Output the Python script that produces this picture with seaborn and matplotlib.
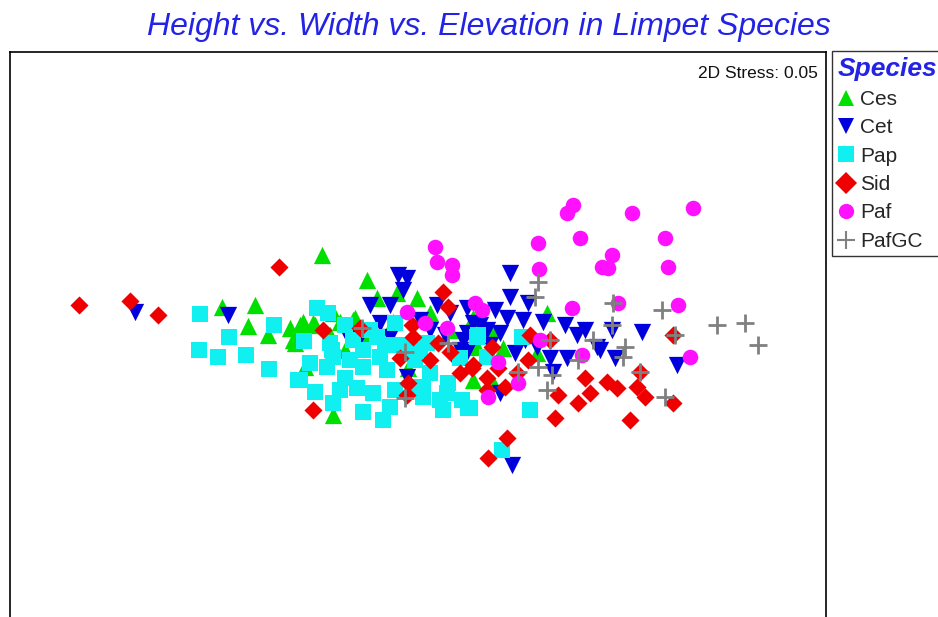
import matplotlib
matplotlib.use("Agg")
import matplotlib.pyplot as plt
from matplotlib.lines import Line2D
import seaborn as sns
import pandas as pd

sns.set_style("white")
plt.rcParams['font.family'] = ['Liberation Sans', 'DejaVu Sans']

species = ["Ces", "Cet", "Pap", "Sid", "Paf", "PafGC"]
colors = ["#00e000", "#0000dd", "#10f0f0", "#ee0000", "#ff10ff", "#808080"]
markers = ["^", "v", "s", "D", "o", "+"]

# MDS ordination coordinates (screen-like units, y grows downward)
ces_x = [222, 255, 248, 268, 290, 295, 303, 315, 333, 322, 333, 305, 367, 417, 377, 397, 430, 300, 313, 340,
         353, 293, 408, 345, 473, 477, 473, 547, 537, 503, 493, 393, 355, 330, 365, 450, 490]
ces_y = [307, 305, 326, 335, 328, 343, 322, 325, 313, 255, 415, 367, 280, 298, 298, 293, 313, 325, 323, 322,
         320, 340, 368, 350, 380, 347, 318, 313, 353, 348, 383, 322, 318, 335, 335, 330, 330]

cet_x = [135, 228, 398, 407, 403, 370, 390, 437, 450, 467, 380, 347, 360, 390, 463, 467, 480, 473, 407, 510,
         510, 528, 495, 480, 507, 523, 543, 565, 577, 597, 612, 642, 615, 567, 550, 515, 537, 553, 500, 677,
         512, 460, 467, 500, 487, 453, 420, 430, 445, 490, 525, 585, 600]
cet_y = [312, 315, 275, 278, 290, 305, 305, 305, 313, 308, 323, 335, 337, 337, 340, 352, 313, 323, 377, 273,
         297, 303, 310, 325, 318, 320, 322, 325, 335, 347, 330, 332, 358, 358, 358, 353, 347, 372, 393, 365,
         465, 350, 333, 333, 330, 357, 320, 330, 335, 345, 340, 330, 350]

pap_x = [200, 229, 199, 218, 246, 269, 274, 300, 317, 328, 304, 310, 298, 315, 333, 332, 330, 333, 327, 345,
         357, 353, 363, 363, 377, 380, 387, 373, 363, 390, 383, 413, 423, 430, 423, 440, 447, 448, 468, 462,
         443, 407, 395, 478, 427, 470, 530, 502, 477, 487, 522, 460, 345, 370, 400, 415, 385, 350, 340, 395, 420]
pap_y = [314, 337, 350, 357, 355, 369, 325, 380, 308, 313, 341, 363, 380, 392, 403, 350, 343, 357, 367, 378,
         388, 340, 350, 367, 337, 357, 370, 393, 412, 407, 420, 387, 387, 373, 397, 400, 393, 383, 408, 400,
         410, 347, 323, 335, 343, 408, 410, 450, 337, 357, 337, 358, 325, 330, 345, 360, 345, 360, 390, 390, 350]

sid_x = [79, 130, 158, 279, 323, 313, 360, 412, 413, 400, 430, 438, 443, 448, 450, 460, 472, 408, 407, 492,
         530, 528, 473, 487, 498, 505, 487, 517, 550, 558, 585, 590, 578, 607, 617, 637, 645, 640, 555, 630,
         673, 673, 507, 488]
sid_y = [305, 301, 315, 267, 330, 410, 328, 325, 337, 358, 360, 343, 292, 307, 352, 373, 368, 383, 395, 347,
         335, 360, 365, 378, 368, 387, 390, 373, 340, 395, 378, 393, 403, 382, 388, 387, 397, 372, 418, 420,
         335, 403, 438, 458]

paf_x = [573, 567, 632, 693, 538, 580, 665, 612, 602, 608, 539, 668, 618, 572, 678, 690, 475, 482, 540, 582,
         498, 518, 488, 435, 437, 452, 452, 407, 425, 447]
paf_y = [205, 213, 213, 208, 243, 238, 238, 255, 267, 268, 269, 267, 303, 308, 305, 357, 303, 310, 340, 355,
         362, 383, 397, 247, 262, 265, 275, 312, 323, 328]

pafgc_x = [538, 535, 613, 662, 612, 717, 745, 758, 675, 593, 550, 625, 623, 578, 640, 538, 518, 552, 547, 665,
           362, 405, 448, 405]
pafgc_y = [282, 297, 303, 310, 325, 325, 323, 345, 335, 340, 340, 347, 357, 360, 372, 367, 372, 375, 390, 397,
           328, 352, 343, 398]

xs = [ces_x, cet_x, pap_x, sid_x, paf_x, pafgc_x]
ys = [ces_y, cet_y, pap_y, sid_y, paf_y, pafgc_y]
sizes = [155, 155, 125, 85, 125, 165]

W, H = 938, 617
fig = plt.figure(figsize=(W / 100, H / 100), dpi=100)
ax = fig.add_axes([10 / W, 1 - 625 / H, 816 / W, 573 / H])

for sp, c, m, x, y, s in zip(species, colors, markers, xs, ys, sizes):
    df = pd.DataFrame({"x": x, "y": y})
    if m == "+":
        sns.scatterplot(data=df, x="x", y="y", marker=m, color=c, s=s, linewidth=2, ax=ax, zorder=3)
    else:
        sns.scatterplot(data=df, x="x", y="y", marker=m, color=c, s=s, linewidth=0, ax=ax, zorder=3)

ax.set_xlim(10, 826)
ax.set_ylim(625, 52)
ax.set_xticks([])
ax.set_yticks([])
ax.set_xlabel("")
ax.set_ylabel("")
for sp_ in ax.spines.values():
    sp_.set_color("black")
    sp_.set_linewidth(1.2)

ax.text(0.99, 0.975, "2D Stress: 0.05", transform=ax.transAxes, ha="right", va="top",
        fontsize=12.5, color="#111111")

fig.text(489 / W, 1 - 27 / H, "Height vs. Width vs. Elevation in Limpet Species",
         ha="center", va="center", fontsize=23, style="italic", color="#2323e6")

handles = [Line2D([], [], linestyle="none", marker=m, color=c, markerfacecolor=c,
                  markeredgewidth=(1.5 if m == "+" else 0), markersize=(13 if m == "+" else 11))
           for m, c in zip(markers, colors)]
leg = fig.legend(handles, species, loc="upper left",
                 bbox_to_anchor=(832 / W, 1 - 52 / H, 130 / W, 0.001), mode="expand",
                 title="Species", frameon=True, fancybox=False, edgecolor="black",
                 fontsize=15, handlelength=0.8, handletextpad=0.3, labelspacing=0.45,
                 borderpad=0.25, borderaxespad=0, alignment="left")
leg.get_frame().set_linewidth(1.0)
t = leg.get_title()
t.set_fontsize(19)
t.set_fontstyle("italic")
t.set_fontweight("bold")
t.set_color("#2323e6")

fig.savefig("out.png", dpi=100)
